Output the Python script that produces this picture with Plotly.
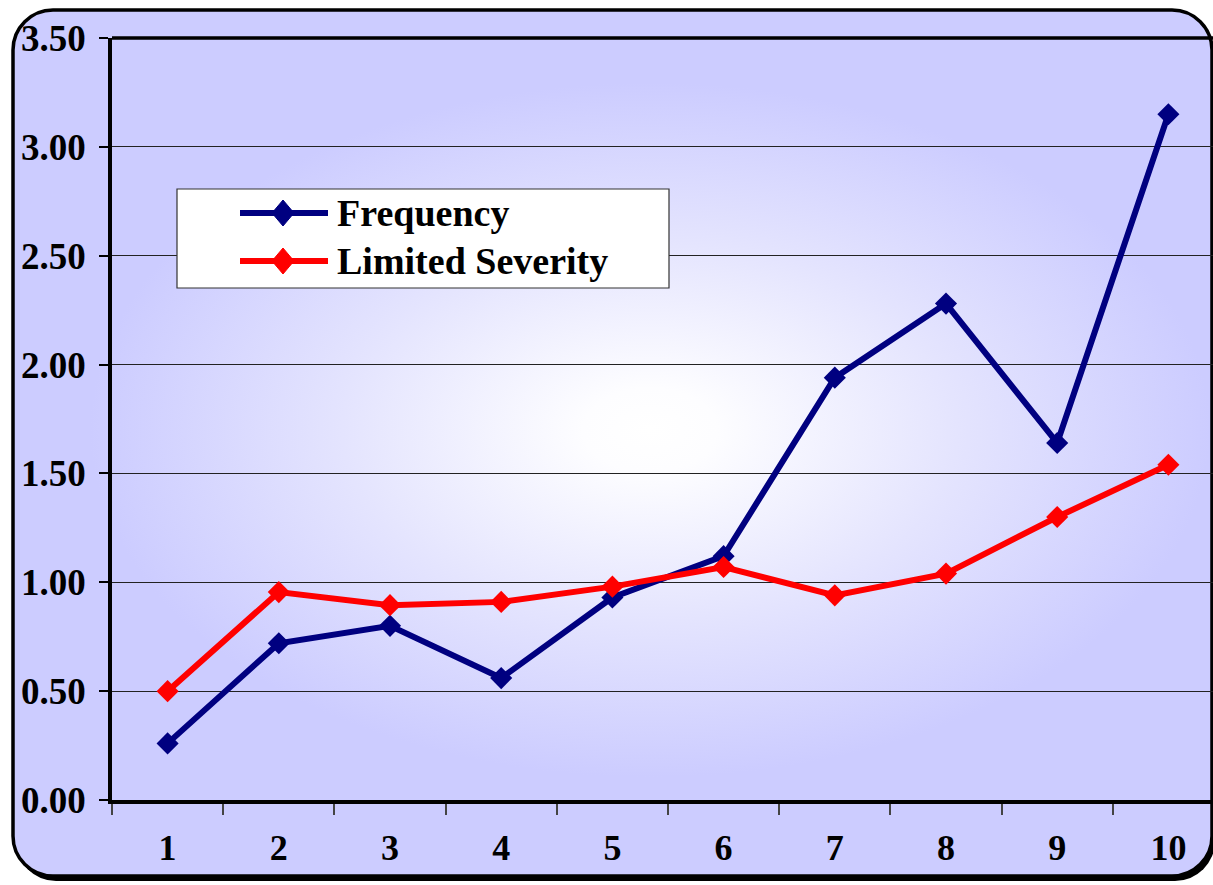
import base64
import plotly.graph_objects as go

# Deciles and the two relativity series
deciles = [1, 2, 3, 4, 5, 6, 7, 8, 9, 10]
frequency = [0.26, 0.72, 0.80, 0.56, 0.93, 1.12, 1.94, 2.28, 1.64, 3.15]
limited_severity = [0.50, 0.955, 0.895, 0.91, 0.98, 1.07, 0.94, 1.04, 1.30, 1.54]
series_names = ["Frequency", "Limited Severity"]
y_ticks = [0.0, 0.5, 1.0, 1.5, 2.0, 2.5, 3.0, 3.5]

W, H = 1213, 885
ML, MR, MT, MB = 112, 0, 38, 85
PW, PH = W - ML - MR, H - MT - MB

NAVY = "#000080"
RED = "#FF0000"
FONT = "Liberation Serif"


def px_x(x):
    return (x - ML) / PW


def px_y(y):
    return (H - MB - y) / PH


# Rounded frame with a soft elliptical fill and drop shadow
svg = f"""<svg xmlns='http://www.w3.org/2000/svg' width='{W}' height='{H}' viewBox='0 0 {W} {H}'>
<defs>
<radialGradient id='g' gradientUnits='userSpaceOnUse' cx='650' cy='430' r='560'
 gradientTransform='translate(650 430) scale(1 0.62) translate(-650 -430)'>
<stop offset='0' stop-color='#FFFFFF'/>
<stop offset='0.12' stop-color='#FDFDFF'/>
<stop offset='0.55' stop-color='#E4E4FE'/>
<stop offset='1' stop-color='#CCCCFF'/>
</radialGradient>
</defs>
<rect x='0' y='0' width='{W}' height='{H}' fill='#FFFFFF'/>
<rect x='16' y='15' width='1199' height='866' rx='40' ry='40' fill='#000'/>
<rect x='13' y='10' width='1199' height='866' rx='40' ry='40' fill='#CCCCFF'/>
<rect x='13' y='10' width='1199' height='866' rx='40' ry='40' fill='url(#g)' stroke='#000' stroke-width='3.5'/>
</svg>"""
frame_src = "data:image/svg+xml;base64," + base64.b64encode(svg.encode()).decode()

fig = go.Figure()

for name, vals, color in [(series_names[0], frequency, NAVY),
                          (series_names[1], limited_severity, RED)]:
    fig.add_trace(go.Scatter(
        x=deciles, y=vals, name=name, mode="lines+markers",
        line=dict(color=color, width=6),
        marker=dict(symbol="diamond", size=17, color=color),
        showlegend=False,
    ))

shapes = [
    # top border of the plot area
    dict(type="line", xref="paper", yref="paper", x0=0, x1=1, y0=1, y1=1,
         line=dict(color="black", width=3.5)),
    # legend box
    dict(type="rect", xref="paper", yref="paper",
         x0=px_x(177), x1=px_x(669), y0=px_y(189), y1=px_y(288),
         fillcolor="white", line=dict(color="#333333", width=1.2)),
]
annotations = []
for i, (name, color) in enumerate(zip(series_names, [NAVY, RED])):
    cy = 213 + i * 48
    shapes.append(dict(type="line", xref="paper", yref="paper",
                       x0=px_x(240), x1=px_x(328), y0=px_y(cy), y1=px_y(cy),
                       line=dict(color=color, width=6)))
    cx = 283
    path = (f"M {px_x(cx)} {px_y(cy - 13)} L {px_x(cx + 11)} {px_y(cy)} "
            f"L {px_x(cx)} {px_y(cy + 13)} L {px_x(cx - 11)} {px_y(cy)} Z")
    shapes.append(dict(type="path", xref="paper", yref="paper", path=path,
                       fillcolor=color, line=dict(color=color, width=1)))
    annotations.append(dict(
        xref="paper", yref="paper", x=px_x(335), y=px_y(cy),
        xanchor="left", yanchor="middle", showarrow=False, text=name,
        font=dict(family=FONT, size=38, color="black", weight="bold"),
    ))

fig.update_layout(
    width=W, height=H,
    margin=dict(l=ML, r=MR, t=MT, b=MB, pad=0),
    paper_bgcolor="white",
    plot_bgcolor="rgba(0,0,0,0)",
    shapes=shapes,
    annotations=annotations,
    images=[dict(source=frame_src, xref="paper", yref="paper",
                 x=px_x(0), y=px_y(0), sizex=W / PW, sizey=H / PH,
                 xanchor="left", yanchor="top", sizing="stretch",
                 layer="below")],
    xaxis=dict(
        range=[0.5, 0.5 + PW / 111.2],
        tickmode="array", tickvals=deciles, ticktext=[str(d) for d in deciles],
        ticks="", showgrid=False, zeroline=False,
        showline=True, linecolor="black", linewidth=3.5,
        ticklabelstandoff=13,
        tickfont=dict(family=FONT, size=36, color="black", weight="bold"),
        minor=dict(tickmode="array", tickvals=[d + 0.5 for d in range(0, 10)],
                   ticks="outside", ticklen=11, tickwidth=1.5,
                   tickcolor="#444444", showgrid=False),
    ),
    yaxis=dict(
        range=[0, 3.5],
        tickmode="array", tickvals=y_ticks,
        ticktext=[f"{v:.2f}" for v in y_ticks],
        ticks="outside", ticklen=9, tickwidth=1.5, tickcolor="black",
        showgrid=True, gridcolor="#222222", gridwidth=1,
        zeroline=False,
        showline=True, linecolor="black", linewidth=3.5,
        ticklabelstandoff=6,
        tickfont=dict(family=FONT, size=37, color="black", weight="bold"),
    ),
)

fig.write_html("out.html")
